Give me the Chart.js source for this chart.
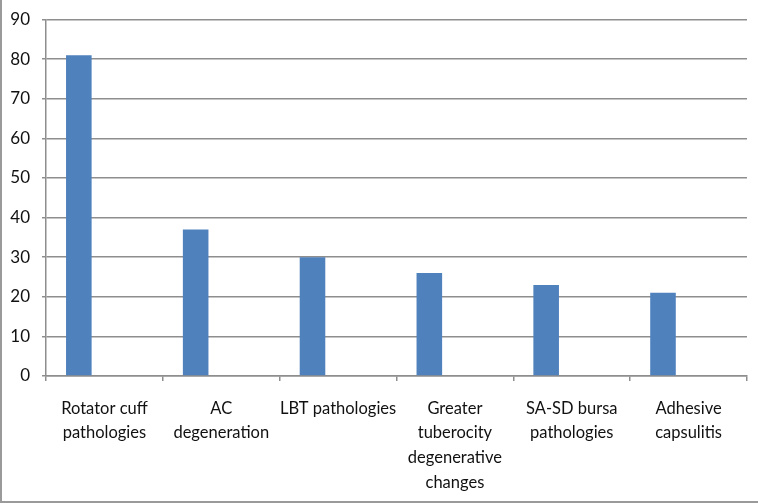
<!DOCTYPE html>
<html>
<head>
<meta charset="utf-8">
<script src="https://cdn.jsdelivr.net/npm/chart.js@4"></script>
<style>
  html, body { margin: 0; padding: 0; background: #ffffff; }
  #wrap { width: 758px; height: 504px; position: relative; }
</style>
</head>
<body>
<div id="wrap"><canvas id="c" width="758" height="504"></canvas></div>
<script>
const categories = [
  ["Rotator cuff", "pathologies"],
  ["AC", "degeneration"],
  ["LBT pathologies"],
  ["Greater", "tuberocity", "degenerative", "changes"],
  ["SA-SD bursa", "pathologies"],
  ["Adhesive", "capsulitis"]
];
const series1 = [81, 37, 30, 26, 23, 21];
const series2 = [null, null, null, null, null, null];
const series3 = [null, null, null, null, null, null];
const yTicks = { min: 0, max: 90, step: 10 };

const gridColor = '#8e8e8e';
const fontFamily = 'Lato, "Open Sans", sans-serif';

const frame = {
  id: 'frame',
  afterDraw(chart) {
    const ctx = chart.ctx;
    ctx.save();
    ctx.strokeStyle = '#9a9a9a';
    ctx.lineWidth = 2;
    ctx.beginPath();
    ctx.moveTo(1, 0);
    ctx.lineTo(1, 502);
    ctx.lineTo(758, 502);
    ctx.stroke();
    ctx.restore();
  }
};

new Chart(document.getElementById('c'), {
  type: 'bar',
  data: {
    labels: categories,
    datasets: [
      { label: 'Series1', data: series1, backgroundColor: '#4F81BD', borderWidth: 0 },
      { label: 'Series2', data: series2, backgroundColor: '#C0504D', borderWidth: 0 },
      { label: 'Series3', data: series3, backgroundColor: '#9BBB59', borderWidth: 0 }
    ]
  },
  options: {
    responsive: false,
    animation: false,
    devicePixelRatio: 1,
    categoryPercentage: 0.657,
    barPercentage: 1.0,
    layout: { padding: { top: 19.5, right: 11, bottom: 0, left: 0 } },
    plugins: { legend: { display: false }, tooltip: { enabled: false } },
    scales: {
      x: {
        grid: { offset: true, drawOnChartArea: false, drawTicks: true, tickLength: 5, color: gridColor, lineWidth: 1.5 },
        border: { color: gridColor, width: 1.5 },
        ticks: { color: '#111111', font: { family: fontFamily, size: 16.5, lineHeight: 1.5 }, padding: 15, maxRotation: 0, autoSkip: false },
        afterFit(scale) { scale.height = 128; scale.paddingLeft = 0; scale.paddingRight = 0; }
      },
      y: {
        min: yTicks.min,
        max: yTicks.max,
        grid: { drawTicks: true, tickLength: 4, color: gridColor, lineWidth: 1.5 },
        border: { color: gridColor, width: 1.5 },
        ticks: { stepSize: yTicks.step, color: '#111111', font: { family: fontFamily, size: 17 }, padding: 12 },
        afterFit(scale) { scale.width = 46; scale.paddingTop = 0; scale.paddingBottom = 0; }
      }
    }
  },
  plugins: [frame]
});
</script>
</body>
</html>
